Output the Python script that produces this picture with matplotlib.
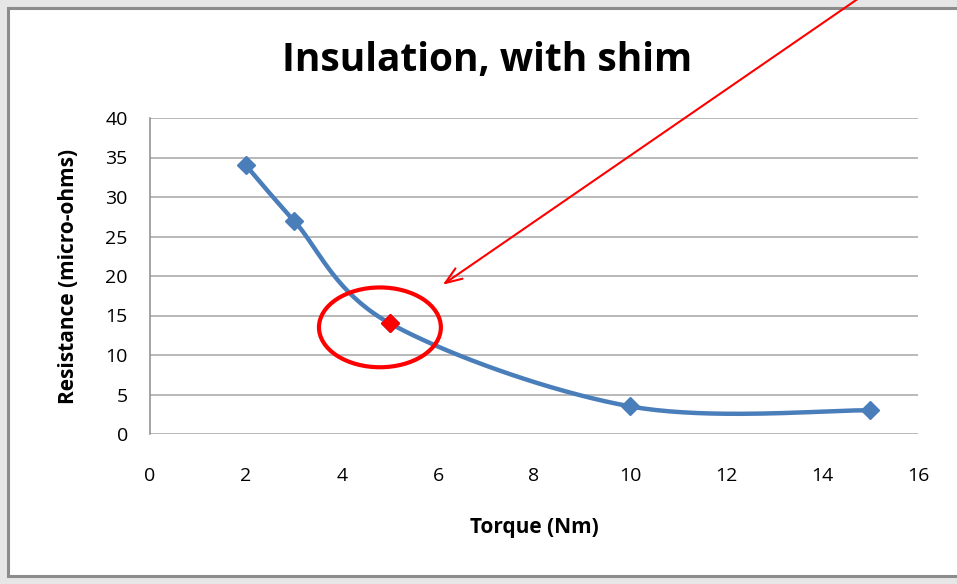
import numpy as np
import matplotlib
matplotlib.use("Agg")
import matplotlib.pyplot as plt
from matplotlib.patches import Ellipse, Rectangle

torque = [2, 3, 5, 10, 15]
resistance = [34, 27, 14, 3.5, 3]
highlight = 2  # index of the point marked in red

xticks = [0, 2, 4, 6, 8, 10, 12, 14, 16]
yticks = [0, 5, 10, 15, 20, 25, 30, 35, 40]

blue = "#4a7ebb"
grid = "#a6a6a6"

plt.rcParams["font.family"] = ["Open Sans", "DejaVu Sans"]

fig = plt.figure(figsize=(9.57, 5.84), dpi=100, facecolor="#e6e6e6")
# white chart area with grey border, like the Excel frame
fig.patches.append(Rectangle((8 / 957, 8 / 584), 1.0, 568 / 584, transform=fig.transFigure,
                             facecolor="white", edgecolor="#8c8c8c", linewidth=2.2, zorder=-10))

ax = fig.add_axes([150 / 957, 150 / 584, 768 / 957, 316 / 584])
ax.set_facecolor("none")
ax.set_xlim(0, 16)
ax.set_ylim(0, 40)


# Excel-like smoothed line: cubic bezier through points, computed in pixel-ish scale
def smooth(xs, ys, sx=48.0, sy=7.9, n=40):
    p = np.column_stack([np.array(xs) * sx, np.array(ys) * sy])
    pts = np.vstack([p[0], p, p[-1]])
    out = []
    for i in range(1, len(pts) - 2):
        p0, p1, p2, p3 = pts[i - 1], pts[i], pts[i + 1], pts[i + 2]
        c1 = p1 + (p2 - p0) / 6
        c2 = p2 - (p3 - p1) / 6
        t = np.linspace(0, 1, n)[:, None]
        seg = (1 - t) ** 3 * p1 + 3 * (1 - t) ** 2 * t * c1 + 3 * (1 - t) * t ** 2 * c2 + t ** 3 * p2
        out.append(seg if i == 1 else seg[1:])
    out = np.vstack(out)
    return out[:, 0] / sx, out[:, 1] / sy


sx_, sy_ = smooth(torque, resistance)
ax.plot(sx_, sy_, color=blue, linewidth=3.2, solid_capstyle="round", zorder=3)
ax.plot(torque, resistance, linestyle="none", marker="D", markersize=9,
        color=blue, zorder=4)
ax.plot(torque[highlight], resistance[highlight], linestyle="none", marker="D",
        markersize=9, color="red", zorder=5)

ax.add_patch(Ellipse((4.79, 13.5), 2.54, 10.1, fill=False, edgecolor="red",
                     linewidth=3, zorder=6))
ax.annotate("", xy=(6.1, 18.9), xycoords="data",
            xytext=(862, 588), textcoords="figure pixels",
            arrowprops=dict(arrowstyle="->,head_length=1.2,head_width=0.45",
                            color="red", linewidth=1.5, shrinkA=0, shrinkB=0),
            annotation_clip=False, zorder=7)

ax.set_xticks(xticks)
ax.set_yticks(yticks)
ax.yaxis.grid(True, color=grid, linewidth=1.1)
ax.set_axisbelow(True)
for s in ["top", "right", "bottom"]:
    ax.spines[s].set_visible(False)
ax.spines["left"].set_color("#8c8c8c")
ax.spines["left"].set_linewidth(1.1)
ax.tick_params(axis="both", length=0, labelsize=14, colors="black")
ax.tick_params(axis="x", pad=24)
ax.tick_params(axis="y", pad=16)

ax.set_xlabel("Torque (Nm)", fontsize=15, fontweight="bold", labelpad=23)
ax.set_ylabel("Resistance (micro-ohms)", fontsize=15, fontweight="bold", labelpad=19)
fig.text(487 / 957, 1 - 61 / 584, "Insulation, with shim", fontsize=28,
         fontweight="bold", ha="center", va="center")

fig.savefig("out.png", dpi=100, facecolor=fig.get_facecolor())
